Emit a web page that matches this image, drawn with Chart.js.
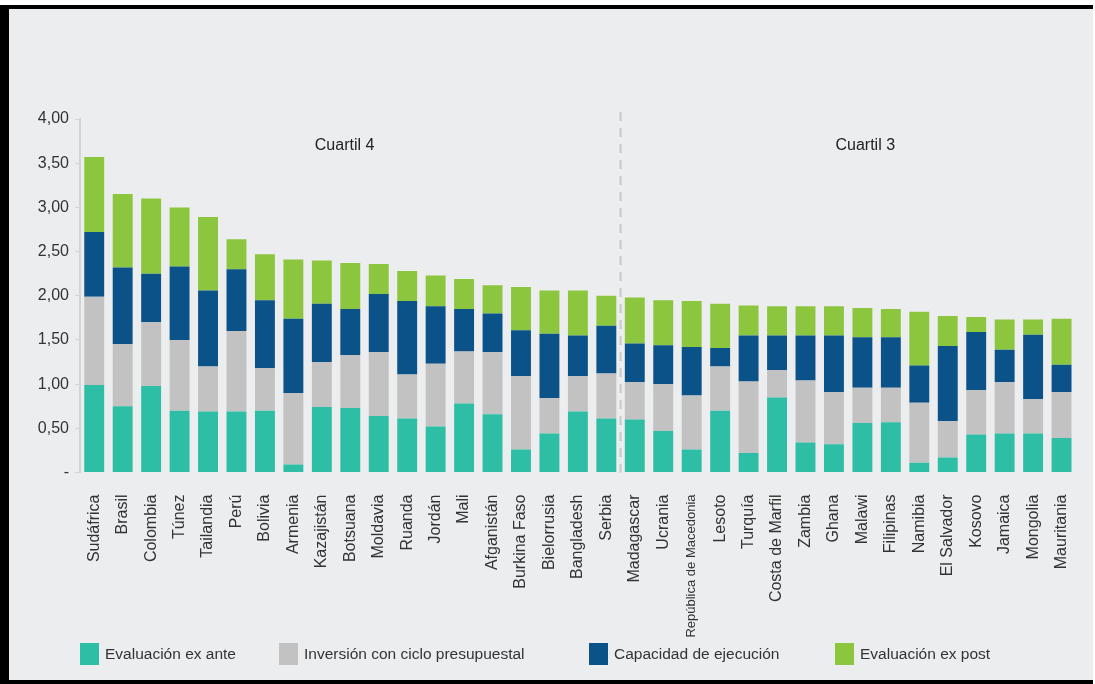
<!DOCTYPE html>
<html lang="es">
<head>
    <meta charset="UTF-8">
    <title>Cuartiles - índice de gestión de la inversión pública</title>
    <script src="https://cdn.jsdelivr.net/npm/chart.js"></script>
    <style>
        html, body {
            margin: 0;
            padding: 0;
            background: #ffffff;
            font-family: Arial, "Liberation Sans", sans-serif;
        }
        .marco {
            position: absolute;
            left: 0;
            top: 5px;
            width: 1084px;
            height: 671px;
            background: #ecedef;
            border-left: 9px solid #000;
            border-top: 4px solid #000;
            border-bottom: 4px solid #000;
        }
        #grafico {
            position: absolute;
            left: 0;
            top: 0;
        }
        .leyenda {
            position: absolute;
            top: 643px;
            height: 22px;
            display: flex;
            align-items: center;
            font-size: 15.5px;
            color: #333;
        }
        .leyenda span.caja {
            display: inline-block;
            width: 19px;
            height: 22px;
            margin-right: 6px;
        }
    </style>
</head>
<body>
    <div class="marco"></div>
    <canvas id="grafico" width="1095" height="684"></canvas>
    <div id="leyenda"></div>

    <script>
        const paises = ["Sudáfrica", "Brasil", "Colombia", "Túnez", "Tailandia", "Perú", "Bolivia", "Armenia",
            "Kazajistán", "Botsuana", "Moldavia", "Ruanda", "Jordán", "Mali", "Afganistán", "Burkina Faso",
            "Bielorrusia", "Bangladesh", "Serbia",
            "Madagascar", "Ucrania", "República de Macedonia", "Lesoto", "Turquía", "Costa de Marfil", "Zambia",
            "Ghana", "Malawi", "Filipinas", "Namibia", "El Salvador", "Kosovo", "Jamaica", "Mongolia", "Mauritania"];

        const evalExAnte = [0.99, 0.75, 0.98, 0.70, 0.69, 0.69, 0.70, 0.09, 0.74, 0.73, 0.64, 0.61, 0.52, 0.78, 0.66, 0.26, 0.44, 0.69, 0.61,
            0.60, 0.47, 0.26, 0.70, 0.22, 0.85, 0.34, 0.32, 0.56, 0.57, 0.11, 0.17, 0.43, 0.44, 0.44, 0.39];
        const inversionCiclo = [1.00, 0.70, 0.72, 0.80, 0.51, 0.91, 0.48, 0.81, 0.51, 0.60, 0.72, 0.50, 0.71, 0.59, 0.70, 0.83, 0.40, 0.40, 0.51,
            0.42, 0.53, 0.61, 0.50, 0.81, 0.31, 0.70, 0.59, 0.40, 0.39, 0.68, 0.41, 0.50, 0.58, 0.39, 0.52];
        const capacidadEjec = [0.73, 0.87, 0.55, 0.83, 0.86, 0.70, 0.77, 0.84, 0.66, 0.52, 0.66, 0.83, 0.65, 0.48, 0.44, 0.52, 0.73, 0.46, 0.54,
            0.44, 0.44, 0.55, 0.21, 0.52, 0.39, 0.51, 0.64, 0.57, 0.57, 0.42, 0.85, 0.66, 0.37, 0.73, 0.31];
        const evalExPost = [0.85, 0.83, 0.85, 0.67, 0.83, 0.34, 0.52, 0.67, 0.49, 0.52, 0.34, 0.34, 0.35, 0.34, 0.32, 0.49, 0.49, 0.51, 0.34,
            0.52, 0.51, 0.52, 0.50, 0.34, 0.33, 0.33, 0.33, 0.33, 0.32, 0.61, 0.34, 0.17, 0.34, 0.17, 0.52];

        const cuartiles = ["Cuartil 4", "Cuartil 3"];
        const paisesPorCuartil = [19, 16];
        const ticksY = [0, 0.5, 1, 1.5, 2, 2.5, 3, 3.5, 4];

        const series = [
            { label: "Evaluación ex ante", data: evalExAnte, color: "#2dbea5" },
            { label: "Inversión con ciclo presupuestal", data: inversionCiclo, color: "#c2c2c2" },
            { label: "Capacidad de ejecución", data: capacidadEjec, color: "#0b5289" },
            { label: "Evaluación ex post", data: evalExPost, color: "#8cc63f" }
        ];

        // línea discontinua entre cuartiles y sus rótulos
        const separadorCuartiles = {
            id: 'separadorCuartiles',
            afterDatasetsDraw(chart) {
                const { ctx, chartArea, scales } = chart;
                const x = scales.x, y = scales.y;
                const paso = x.getPixelForValue(1) - x.getPixelForValue(0);
                const corte = paisesPorCuartil[0];
                const xCorte = (x.getPixelForValue(corte - 1) + x.getPixelForValue(corte)) / 2;

                ctx.save();
                ctx.strokeStyle = '#c9c9c9';
                ctx.lineWidth = 2;
                ctx.setLineDash([9, 7]);
                ctx.beginPath();
                ctx.moveTo(xCorte, chartArea.top - 7);
                ctx.lineTo(xCorte, chartArea.bottom);
                ctx.stroke();

                ctx.setLineDash([]);
                ctx.fillStyle = '#222';
                ctx.font = '16px Arial, "Liberation Sans", sans-serif';
                ctx.textAlign = 'center';
                ctx.textBaseline = 'middle';
                const yTexto = y.getPixelForValue(3.7);
                ctx.fillText(cuartiles[0], x.getPixelForValue(8) + paso * 0.8, yTexto);
                ctx.fillText(cuartiles[1], x.getPixelForValue(27) + paso * 0.1, yTexto);
                ctx.restore();
            }
        };

        const ctx = document.getElementById('grafico').getContext('2d');
        const chart = new Chart(ctx, {
            type: 'bar',
            data: {
                labels: paises,
                datasets: series.map(s => ({
                    label: s.label,
                    data: s.data,
                    backgroundColor: s.color,
                    borderWidth: 0,
                    barPercentage: 0.7,
                    categoryPercentage: 1
                }))
            },
            options: {
                responsive: false,
                animation: false,
                layout: { padding: { left: 0, right: 17, top: 119, bottom: 0 } },
                plugins: {
                    legend: { display: false },
                    tooltip: { enabled: false }
                },
                scales: {
                    x: {
                        stacked: true,
                        grid: { display: false },
                        border: { display: false },
                        afterFit: (scale) => { scale.height = 211.5; },
                        ticks: {
                            autoSkip: false,
                            minRotation: 90,
                            maxRotation: 90,
                            padding: 14,
                            color: '#333',
                            font: (c) => ({
                                family: 'Arial, "Liberation Sans", sans-serif',
                                size: c.index === 21 ? 13 : 16
                            })
                        }
                    },
                    y: {
                        stacked: true,
                        min: 0,
                        max: 4,
                        afterFit: (scale) => { scale.width = 80; },
                        afterBuildTicks: (scale) => { scale.ticks = ticksY.map(v => ({ value: v })); },
                        grid: {
                            drawOnChartArea: false,
                            color: '#d4d4d4',
                            tickLength: 5
                        },
                        border: { color: '#d4d4d4', width: 2 },
                        ticks: {
                            padding: 6,
                            color: '#333',
                            font: { family: 'Arial, "Liberation Sans", sans-serif', size: 16 },
                            callback: (v) => v === 0 ? '-' : v.toFixed(2).replace('.', ',')
                        }
                    }
                }
            },
            plugins: [separadorCuartiles]
        });

        // leyenda en HTML, con las posiciones de cada entrada
        const posLeyenda = [80, 279, 589, 835];
        const leyenda = document.getElementById('leyenda');
        series.forEach((s, i) => {
            const item = document.createElement('div');
            item.className = 'leyenda';
            item.style.left = posLeyenda[i] + 'px';
            item.innerHTML = `<span class="caja" style="background:${s.color}"></span>${s.label}`;
            leyenda.appendChild(item);
        });
    </script>
</body>
</html>
